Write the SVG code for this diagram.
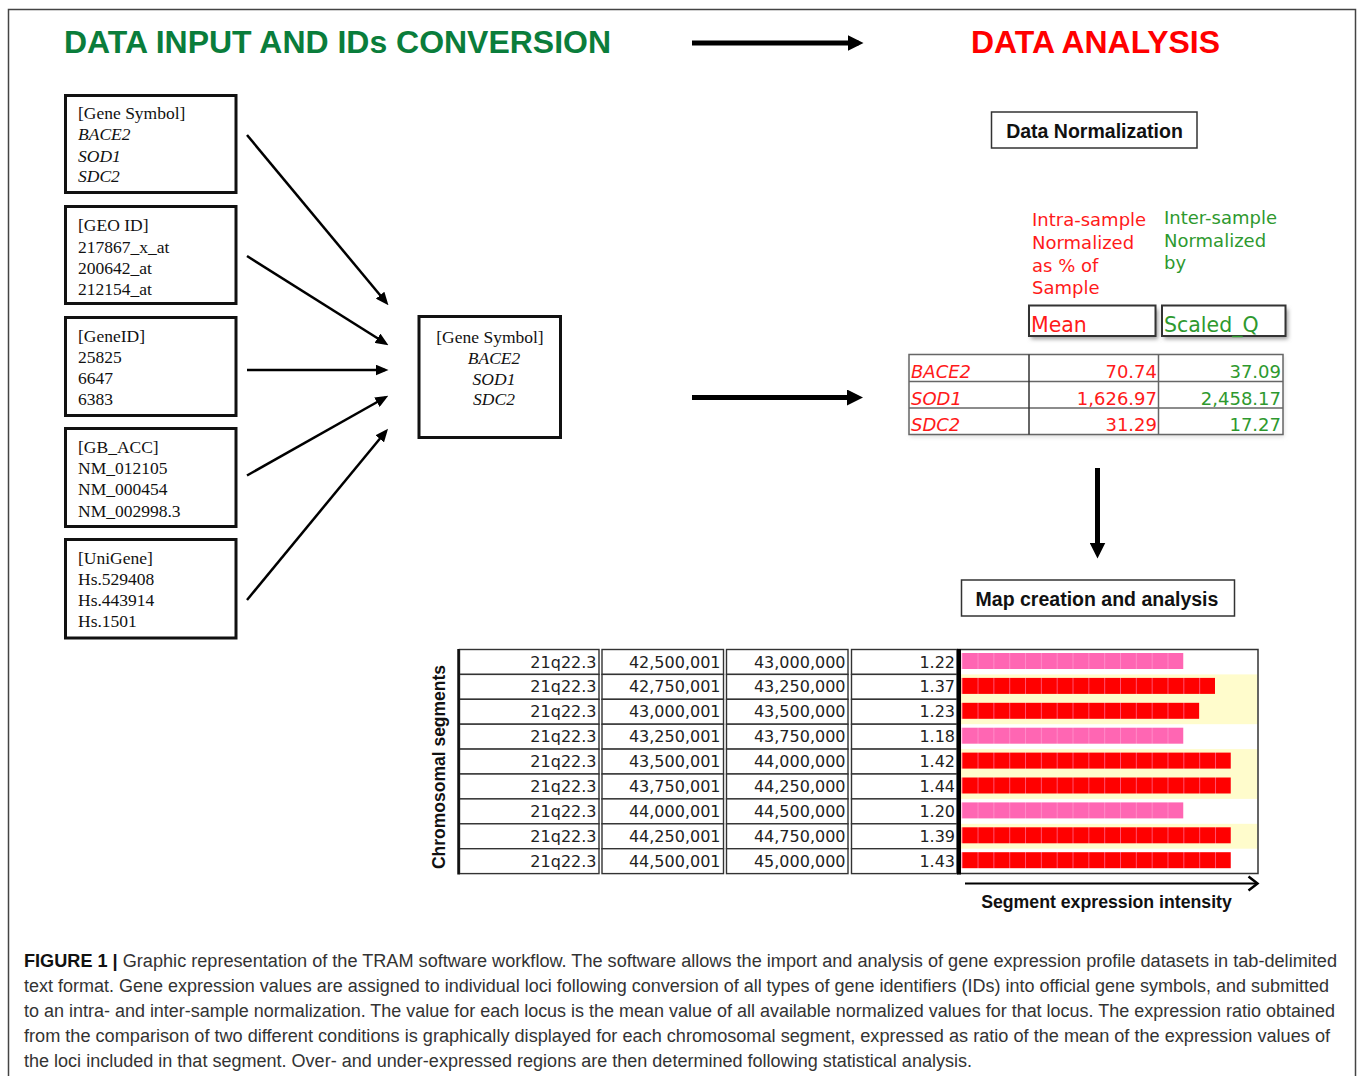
<svg xmlns="http://www.w3.org/2000/svg" width="1357" height="1076" viewBox="0 0 1357 1076">
<style>
.serif{font-family:"Liberation Serif","Times New Roman",serif;font-size:17.5px;fill:#111}
.it{font-style:italic}
.box{fill:#fff;stroke:#111;stroke-width:3}
.lbox{fill:#fff;stroke:#333;stroke-width:1.5}
.bold{font-family:"Liberation Sans",Arial,sans-serif;font-weight:bold;fill:#111}
.mac{font-family:"DejaVu Sans","Noto Sans",sans-serif}
.red{fill:#ff1a1a}
.grn{fill:#2e992e}
.cell{fill:#fff;stroke:#333;stroke-width:1.4}
.ct{font-family:"DejaVu Sans","Noto Sans",sans-serif;font-size:16px;fill:#222;text-anchor:end}
.thin{stroke:#000;stroke-width:2.5;fill:none;marker-end:url(#ah)}
.thick{stroke:#000;stroke-width:5;fill:none;marker-end:url(#ahb)}
.cap{font-family:"Liberation Sans",Arial,sans-serif;font-size:18px;fill:#333}
</style>
<defs>
<marker id="ah" markerUnits="userSpaceOnUse" viewBox="0 0 13 11" refX="9.5" refY="5.5" markerWidth="13" markerHeight="11" orient="auto"><path d="M0,0 L13,5.5 L0,11 z" fill="#000"/></marker>
<marker id="ahb" markerUnits="userSpaceOnUse" viewBox="0 0 16 16" refX="11" refY="8" markerWidth="16" markerHeight="16" orient="auto"><path d="M0,0 L16,8 L0,16 z" fill="#000"/></marker>
<pattern id="redSeg" patternUnits="userSpaceOnUse" x="961.7" y="0" width="15.83" height="20"><rect width="15.83" height="20" fill="#ff0000"/><rect width="1" height="20" fill="#ff4f6e"/></pattern>
<pattern id="pinkSeg" patternUnits="userSpaceOnUse" x="961.7" y="0" width="15.83" height="20"><rect width="15.83" height="20" fill="#ff66b3"/><rect width="1" height="20" fill="#ff8ac8"/></pattern>
<filter id="blur" x="-10%" y="-20%" width="130%" height="160%"><feGaussianBlur stdDeviation="2"/></filter>
</defs>
<rect width="1357" height="1076" fill="#fff"/>
<!-- frame -->
<path d="M8.5,1076 V9.5 H1355.5 V1076" fill="none" stroke="#444" stroke-width="1.5"/>

<g id="titles">
<text x="64" y="53" class="bold" font-size="32" fill="#0a7d3b" style="fill:#0a7d3b" textLength="547" lengthAdjust="spacingAndGlyphs">DATA INPUT AND IDs CONVERSION</text>
<text x="971" y="53" class="bold" font-size="32" style="fill:#ff0000" textLength="249" lengthAdjust="spacingAndGlyphs">DATA ANALYSIS</text>
</g>

<g id="box-genesymbol">
<rect class="box" x="65.5" y="95.5" width="170.5" height="97"/>
<text class="serif" x="78" y="119">[Gene Symbol]</text>
<text class="serif it" x="78" y="140">BACE2</text>
<text class="serif it" x="78" y="161.5">SOD1</text>
<text class="serif it" x="78" y="182">SDC2</text>
</g>
<g id="box-geoid">
<rect class="box" x="65.5" y="206.5" width="170.5" height="97"/>
<text class="serif" x="78" y="231">[GEO ID]</text>
<text class="serif" x="78" y="252.5">217867_x_at</text>
<text class="serif" x="78" y="273.5">200642_at</text>
<text class="serif" x="78" y="294.5">212154_at</text>
</g>
<g id="box-geneid">
<rect class="box" x="65.5" y="317.5" width="170.5" height="98"/>
<text class="serif" x="78" y="342">[GeneID]</text>
<text class="serif" x="78" y="363">25825</text>
<text class="serif" x="78" y="384">6647</text>
<text class="serif" x="78" y="405">6383</text>
</g>
<g id="box-gbacc">
<rect class="box" x="65.5" y="428.5" width="170.5" height="98"/>
<text class="serif" x="78" y="453">[GB_ACC]</text>
<text class="serif" x="78" y="474">NM_012105</text>
<text class="serif" x="78" y="495">NM_000454</text>
<text class="serif" x="78" y="516.5">NM_002998.3</text>
</g>
<g id="box-unigene">
<rect class="box" x="65.5" y="539.5" width="170.5" height="98.5"/>
<text class="serif" x="78" y="564">[UniGene]</text>
<text class="serif" x="78" y="585">Hs.529408</text>
<text class="serif" x="78" y="606">Hs.443914</text>
<text class="serif" x="78" y="627">Hs.1501</text>
</g>
<g id="box-center">
<rect class="box" x="419" y="316.5" width="141.5" height="121"/>
<text class="serif" x="490" y="342.5" text-anchor="middle">[Gene Symbol]</text>
<text class="serif it" x="494" y="363.5" text-anchor="middle">BACE2</text>
<text class="serif it" x="494" y="384.5" text-anchor="middle">SOD1</text>
<text class="serif it" x="494" y="405" text-anchor="middle">SDC2</text>
</g>

<g id="connectors">
<line class="thick" x1="692" y1="43" x2="858.5" y2="43"/>
<line class="thin" x1="247" y1="135" x2="386.2" y2="302.5"/>
<line class="thin" x1="247" y1="256" x2="385.5" y2="343.3"/>
<line class="thin" x1="247" y1="370" x2="385" y2="370"/>
<line class="thin" x1="247" y1="475.5" x2="385.2" y2="397.5"/>
<line class="thin" x1="247" y1="600" x2="385.8" y2="431.5"/>
<line class="thick" x1="692" y1="397.5" x2="858" y2="397.5"/>
<line class="thick" x1="1097.5" y1="468" x2="1097.5" y2="553.5"/>
<line x1="965" y1="883.5" x2="1257" y2="883.5" stroke="#000" stroke-width="2"/>
<polyline points="1248.5,876.5 1257.5,883.5 1248.5,890.5" fill="none" stroke="#000" stroke-width="2.5"/>
</g>

<g id="data-normalization">
<rect class="lbox" x="991.5" y="112" width="205.5" height="36"/>
<text class="bold" x="1094.5" y="137.5" font-size="19.5" text-anchor="middle">Data Normalization</text>
</g>

<g id="normalization-table">
<text class="mac red" font-size="18" x="1032" y="226">Intra-sample</text>
<text class="mac red" font-size="18" x="1032" y="249">Normalized</text>
<text class="mac red" font-size="18" x="1032" y="272">as % of</text>
<text class="mac red" font-size="18" x="1032" y="294">Sample</text>
<text class="mac grn" font-size="18" x="1164" y="224">Inter-sample</text>
<text class="mac grn" font-size="18" x="1164" y="247">Normalized</text>
<text class="mac grn" font-size="18" x="1164" y="269">by</text>
<rect x="1031" y="309" width="127" height="30" fill="#999" filter="url(#blur)"/>
<rect x="1164" y="309" width="124" height="30" fill="#999" filter="url(#blur)"/>
<rect x="1029" y="305.5" width="126.5" height="30.5" fill="#fff" stroke="#333" stroke-width="2"/>
<rect x="1162" y="305.5" width="123.5" height="30.5" fill="#fff" stroke="#333" stroke-width="2"/>
<text class="mac red" font-size="20.5" x="1031" y="332">Mean</text>
<text class="mac grn" font-size="20.5" x="1164" y="332">Scaled_Q</text>
<rect x="910" y="356" width="374" height="81" fill="#ddd" filter="url(#blur)"/>
<rect x="909" y="354.5" width="374" height="80" fill="#fff" stroke="#666" stroke-width="1.5"/>
<line x1="909" y1="381.5" x2="1283" y2="381.5" stroke="#666" stroke-width="1.5"/>
<line x1="909" y1="408" x2="1283" y2="408" stroke="#666" stroke-width="1.5"/>
<line x1="1029" y1="354.5" x2="1029" y2="434.5" stroke="#333" stroke-width="1.5"/>
<line x1="1158.5" y1="354.5" x2="1158.5" y2="434.5" stroke="#666" stroke-width="1.5"/>
<text class="mac red" font-size="18" font-style="italic" x="911" y="378">BACE2</text>
<text class="mac red" font-size="18" font-style="italic" x="911" y="404.5">SOD1</text>
<text class="mac red" font-size="18" font-style="italic" x="911" y="431">SDC2</text>
<text class="mac red" font-size="18" x="1157" y="378" text-anchor="end">70.74</text>
<text class="mac red" font-size="18" x="1157" y="404.5" text-anchor="end">1,626.97</text>
<text class="mac red" font-size="18" x="1157" y="431" text-anchor="end">31.29</text>
<text class="mac grn" font-size="18" x="1281" y="378" text-anchor="end">37.09</text>
<text class="mac grn" font-size="18" x="1281" y="404.5" text-anchor="end">2,458.17</text>
<text class="mac grn" font-size="18" x="1281" y="431" text-anchor="end">17.27</text>
</g>

<g id="map-creation">
<rect class="lbox" x="961.5" y="580" width="273" height="36"/>
<text class="bold" x="1097" y="606" font-size="19.5" text-anchor="middle">Map creation and analysis</text>
</g>

<g id="chromosome-map">
<text class="bold" font-size="17.5" transform="translate(444.5,767) rotate(-90)" text-anchor="middle">Chromosomal segments</text>
<!-- yellow bands -->
<rect x="961" y="674.4" width="296.5" height="49.8" fill="#fffccc"/>
<rect x="961" y="749.1" width="296.5" height="49.8" fill="#fffccc"/>
<rect x="961" y="823.8" width="296.5" height="24.9" fill="#fffccc"/>
<!-- cells -->
<g id="cells">
<rect class="cell" x="459.5" y="649.5" width="139.5" height="24.9"/><rect class="cell" x="602" y="649.5" width="121.5" height="24.9"/><rect class="cell" x="726.5" y="649.5" width="121.5" height="24.9"/><rect class="cell" x="851.5" y="649.5" width="105.5" height="24.9"/>
<rect class="cell" x="459.5" y="674.4" width="139.5" height="24.9"/><rect class="cell" x="602" y="674.4" width="121.5" height="24.9"/><rect class="cell" x="726.5" y="674.4" width="121.5" height="24.9"/><rect class="cell" x="851.5" y="674.4" width="105.5" height="24.9"/>
<rect class="cell" x="459.5" y="699.3" width="139.5" height="24.9"/><rect class="cell" x="602" y="699.3" width="121.5" height="24.9"/><rect class="cell" x="726.5" y="699.3" width="121.5" height="24.9"/><rect class="cell" x="851.5" y="699.3" width="105.5" height="24.9"/>
<rect class="cell" x="459.5" y="724.2" width="139.5" height="24.9"/><rect class="cell" x="602" y="724.2" width="121.5" height="24.9"/><rect class="cell" x="726.5" y="724.2" width="121.5" height="24.9"/><rect class="cell" x="851.5" y="724.2" width="105.5" height="24.9"/>
<rect class="cell" x="459.5" y="749.1" width="139.5" height="24.9"/><rect class="cell" x="602" y="749.1" width="121.5" height="24.9"/><rect class="cell" x="726.5" y="749.1" width="121.5" height="24.9"/><rect class="cell" x="851.5" y="749.1" width="105.5" height="24.9"/>
<rect class="cell" x="459.5" y="774" width="139.5" height="24.9"/><rect class="cell" x="602" y="774" width="121.5" height="24.9"/><rect class="cell" x="726.5" y="774" width="121.5" height="24.9"/><rect class="cell" x="851.5" y="774" width="105.5" height="24.9"/>
<rect class="cell" x="459.5" y="798.9" width="139.5" height="24.9"/><rect class="cell" x="602" y="798.9" width="121.5" height="24.9"/><rect class="cell" x="726.5" y="798.9" width="121.5" height="24.9"/><rect class="cell" x="851.5" y="798.9" width="105.5" height="24.9"/>
<rect class="cell" x="459.5" y="823.8" width="139.5" height="24.9"/><rect class="cell" x="602" y="823.8" width="121.5" height="24.9"/><rect class="cell" x="726.5" y="823.8" width="121.5" height="24.9"/><rect class="cell" x="851.5" y="823.8" width="105.5" height="24.9"/>
<rect class="cell" x="459.5" y="848.7" width="139.5" height="24.9"/><rect class="cell" x="602" y="848.7" width="121.5" height="24.9"/><rect class="cell" x="726.5" y="848.7" width="121.5" height="24.9"/><rect class="cell" x="851.5" y="848.7" width="105.5" height="24.9"/>
</g>
<line x1="458.5" y1="649" x2="458.5" y2="874.5" stroke="#111" stroke-width="2.5"/>
<path d="M957,649.5 H1258 V873.6 H957" fill="none" stroke="#333" stroke-width="1.5"/>
<line x1="959" y1="649" x2="959" y2="874.5" stroke="#000" stroke-width="4"/>
<!-- texts -->
<g id="cell-text">
<text class="ct" x="596.5" y="667.5">21q22.3</text><text class="ct" x="720.5" y="667.5">42,500,001</text><text class="ct" x="845.5" y="667.5">43,000,000</text><text class="ct" x="955" y="667.5">1.22</text>
<text class="ct" x="596.5" y="692.4">21q22.3</text><text class="ct" x="720.5" y="692.4">42,750,001</text><text class="ct" x="845.5" y="692.4">43,250,000</text><text class="ct" x="955" y="692.4">1.37</text>
<text class="ct" x="596.5" y="717.3">21q22.3</text><text class="ct" x="720.5" y="717.3">43,000,001</text><text class="ct" x="845.5" y="717.3">43,500,000</text><text class="ct" x="955" y="717.3">1.23</text>
<text class="ct" x="596.5" y="742.2">21q22.3</text><text class="ct" x="720.5" y="742.2">43,250,001</text><text class="ct" x="845.5" y="742.2">43,750,000</text><text class="ct" x="955" y="742.2">1.18</text>
<text class="ct" x="596.5" y="767.1">21q22.3</text><text class="ct" x="720.5" y="767.1">43,500,001</text><text class="ct" x="845.5" y="767.1">44,000,000</text><text class="ct" x="955" y="767.1">1.42</text>
<text class="ct" x="596.5" y="792">21q22.3</text><text class="ct" x="720.5" y="792">43,750,001</text><text class="ct" x="845.5" y="792">44,250,000</text><text class="ct" x="955" y="792">1.44</text>
<text class="ct" x="596.5" y="816.9">21q22.3</text><text class="ct" x="720.5" y="816.9">44,000,001</text><text class="ct" x="845.5" y="816.9">44,500,000</text><text class="ct" x="955" y="816.9">1.20</text>
<text class="ct" x="596.5" y="841.8">21q22.3</text><text class="ct" x="720.5" y="841.8">44,250,001</text><text class="ct" x="845.5" y="841.8">44,750,000</text><text class="ct" x="955" y="841.8">1.39</text>
<text class="ct" x="596.5" y="866.7">21q22.3</text><text class="ct" x="720.5" y="866.7">44,500,001</text><text class="ct" x="845.5" y="866.7">45,000,000</text><text class="ct" x="955" y="866.7">1.43</text>
</g>
<g id="bars">
<rect x="961.7" y="653" width="221.6" height="16" fill="url(#pinkSeg)"/>
<rect x="961.7" y="677.9" width="253.3" height="16" fill="url(#redSeg)"/>
<rect x="961.7" y="702.8" width="237.5" height="16" fill="url(#redSeg)"/>
<rect x="961.7" y="727.7" width="221.6" height="16" fill="url(#pinkSeg)"/>
<rect x="961.7" y="752.6" width="269.1" height="16" fill="url(#redSeg)"/>
<rect x="961.7" y="777.5" width="269.1" height="16" fill="url(#redSeg)"/>
<rect x="961.7" y="802.4" width="221.6" height="16" fill="url(#pinkSeg)"/>
<rect x="961.7" y="827.3" width="269.1" height="16" fill="url(#redSeg)"/>
<rect x="961.7" y="852.2" width="269.1" height="16" fill="url(#redSeg)"/>
</g>
<text class="bold" x="1106.5" y="908" font-size="17.7" text-anchor="middle">Segment expression intensity</text>
</g>

<g id="caption">
<text class="cap" x="24" y="967" textLength="1313" lengthAdjust="spacingAndGlyphs"><tspan font-weight="bold" fill="#111">FIGURE 1 |</tspan> Graphic representation of the TRAM software workflow. The software allows the import and analysis of gene expression profile datasets in tab-delimited</text>
<text class="cap" x="24" y="992" textLength="1305" lengthAdjust="spacingAndGlyphs">text format. Gene expression values are assigned to individual loci following conversion of all types of gene identifiers (IDs) into official gene symbols, and submitted</text>
<text class="cap" x="24" y="1017" textLength="1311" lengthAdjust="spacingAndGlyphs">to an intra- and inter-sample normalization. The value for each locus is the mean value of all available normalized values for that locus. The expression ratio obtained</text>
<text class="cap" x="24" y="1042" textLength="1306" lengthAdjust="spacingAndGlyphs">from the comparison of two different conditions is graphically displayed for each chromosomal segment, expressed as ratio of the mean of the expression values of</text>
<text class="cap" x="24" y="1067" textLength="948" lengthAdjust="spacingAndGlyphs">the loci included in that segment. Over- and under-expressed regions are then determined following statistical analysis.</text>
</g>
</svg>
